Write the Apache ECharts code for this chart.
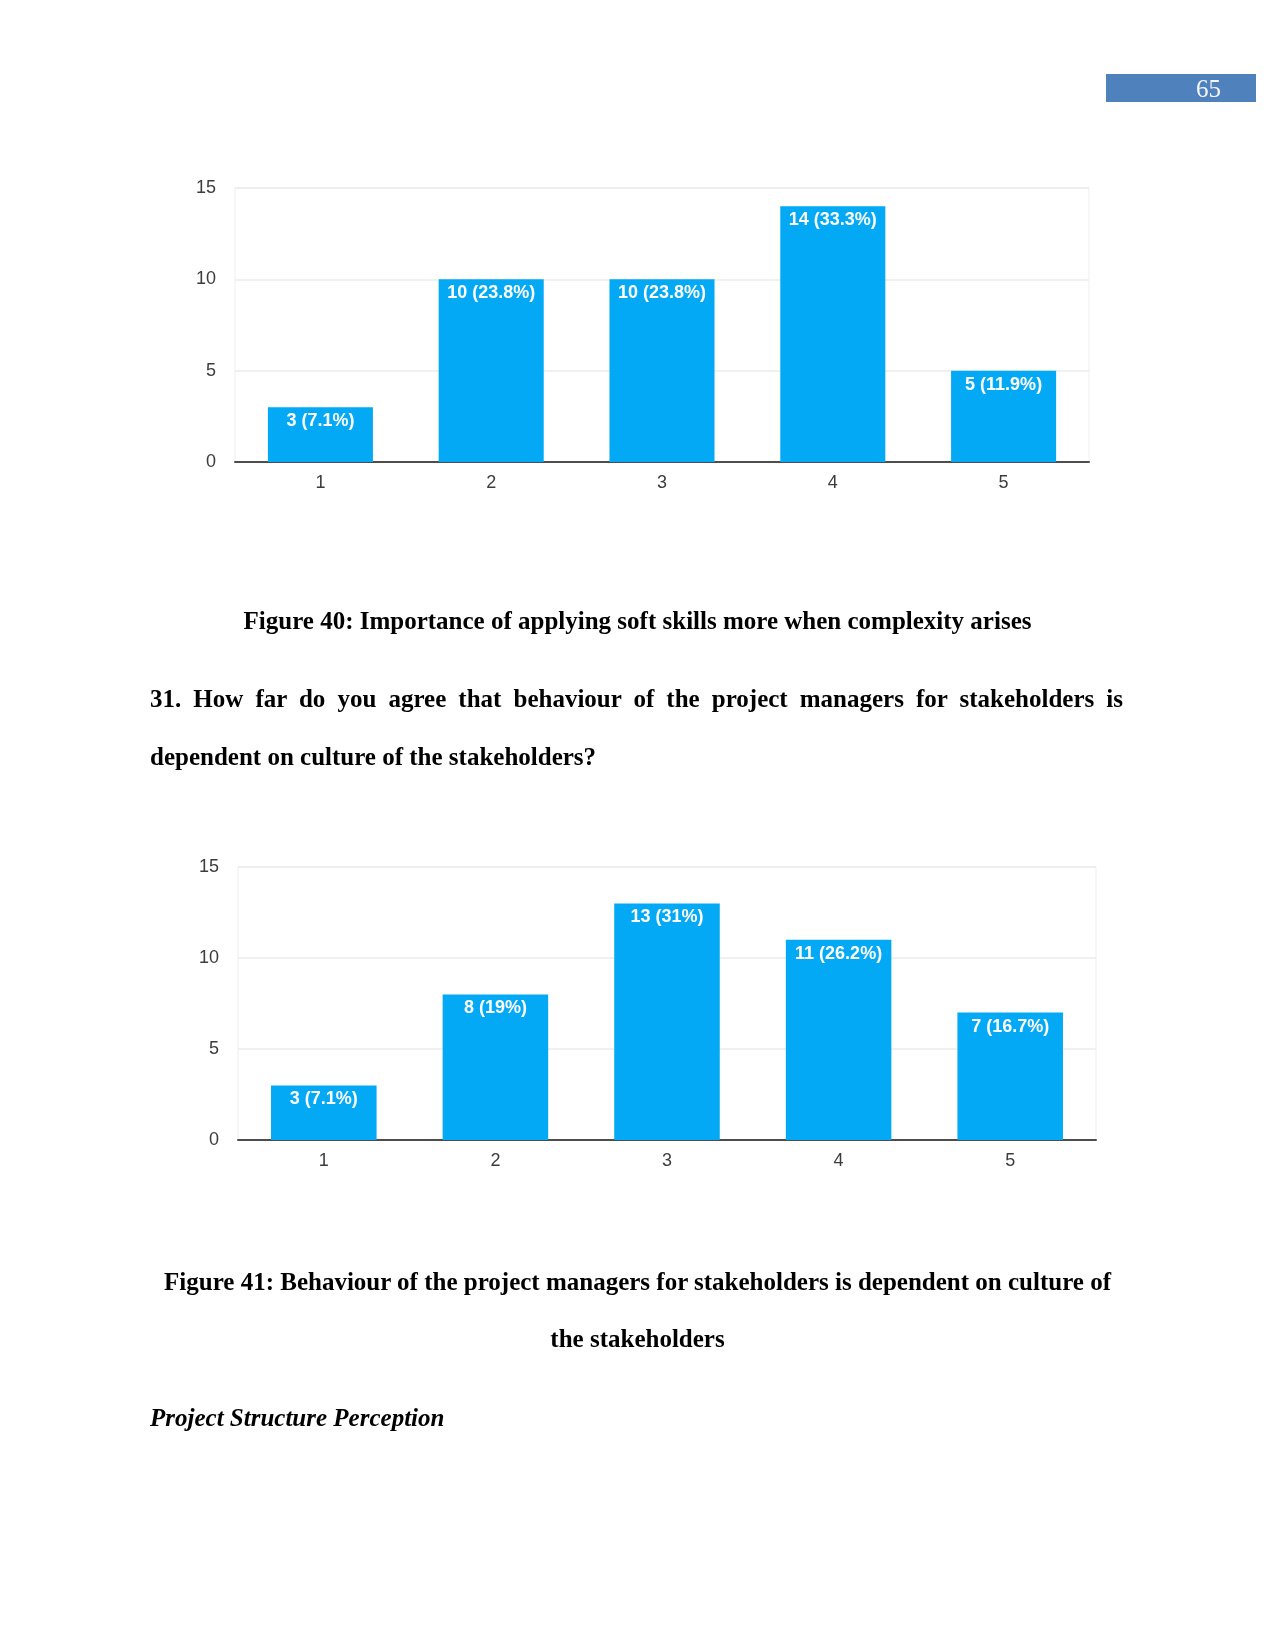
<!DOCTYPE html>
<html>
<head>
<meta charset="utf-8">
<script src="https://cdn.jsdelivr.net/npm/echarts@6/dist/echarts.min.js"></script>
<style>
  html, body { margin: 0; padding: 0; background: #fff; }
  #page { position: relative; width: 1275px; height: 1651px; overflow: hidden; }
  #chart { position: absolute; left: 0; top: 0; width: 1275px; height: 1651px; }
  .txt { position: absolute; font-family: 'Liberation Serif', 'Times New Roman', serif;
         font-size: 25px; font-weight: bold; color: #000; line-height: 30px; white-space: nowrap; }
  .center { left: 0; width: 1275px; text-align: center; }
  .just { left: 150px; width: 973px; text-align: justify; text-align-last: justify; }
  #pnum { position: absolute; left: 1106px; top: 74px; width: 150px; height: 28px; background: #4f81bd; }
  #pnum span { position: absolute; left: 90px; top: 0px; font-family: 'Liberation Serif', serif;
               font-size: 25px; line-height: 30px; color: #f4f6fb; }
</style>
</head>
<body>
<div id="page">
  <div id="chart"></div>
  <div id="pnum"><span>65</span></div>
  <div class="txt center" style="top:606px">Figure 40: Importance of applying soft skills more when complexity arises</div>
  <div class="txt just" style="top:684px">31. How far do you agree that behaviour of the project managers for stakeholders is</div>
  <div class="txt" style="left:150px; top:742px">dependent on culture of the stakeholders?</div>
  <div class="txt center" style="top:1267px">Figure 41: Behaviour of the project managers for stakeholders is dependent on culture of</div>
  <div class="txt center" style="top:1324px">the stakeholders</div>
  <div class="txt" style="left:150px; top:1403px; font-style:italic">Project Structure Perception</div>
</div>
<script>
var categories = ['1', '2', '3', '4', '5'];
var yTicks = [0, 5, 10, 15];

// Figure 40
var counts40 = [3, 10, 10, 14, 5];
var pct40 = ['7.1%', '23.8%', '23.8%', '33.3%', '11.9%'];

// Figure 41
var counts41 = [3, 8, 13, 11, 7];
var pct41 = ['7.1%', '19%', '31%', '26.2%', '16.7%'];

var barColor = '#03a9f4';
var labelFont = 'Liberation Sans, Arial, sans-serif';

function makeGrid(left, top, width, height){
    return {left: left, top: top, width: width, height: height,
            show: true, borderColor: '#efefef', borderWidth: 1, backgroundColor: 'transparent'};
}

function makeX(idx){
    return {
        type: 'category', gridIndex: idx, data: categories,
        axisLine: {lineStyle: {color: '#4d4d4d', width: 2}},
        axisTick: {show: false},
        axisLabel: {color: '#3c3c3c', fontSize: 18, fontFamily: labelFont, margin: 12}
    };
}

function makeY(idx){
    return {
        type: 'value', gridIndex: idx,
        min: yTicks[0], max: yTicks[yTicks.length - 1], interval: yTicks[1] - yTicks[0],
        axisLine: {show: false},
        axisTick: {show: false},
        splitLine: {lineStyle: {color: '#ebebeb', width: 1.5}},
        axisLabel: {color: '#3c3c3c', fontSize: 18, fontFamily: labelFont, margin: 19, padding: [3, 0, 0, 0]}
    };
}

function makeSeries(idx, counts, pcts){
    return {
        type: 'bar', xAxisIndex: idx, yAxisIndex: idx,
        data: counts, barWidth: '61.5%',
        itemStyle: {color: barColor},
        label: {
            show: true, position: 'insideTop', distance: 5,
            color: '#fff', fontSize: 18, fontFamily: labelFont, fontWeight: 'bold',
            formatter: function(p){ return p.value + ' (' + pcts[p.dataIndex] + ')'; }
        },
        emphasis: {disabled: true}
    };
}

var myChart = echarts.init(document.getElementById('chart'));
myChart.setOption({
    animation: false,
    grid: [
        makeGrid(235, 188, 854, 274),
        makeGrid(238, 867, 858, 273)
    ],
    xAxis: [makeX(0), makeX(1)],
    yAxis: [makeY(0), makeY(1)],
    series: [
        makeSeries(0, counts40, pct40),
        makeSeries(1, counts41, pct41)
    ]
});
</script>
</body>
</html>
